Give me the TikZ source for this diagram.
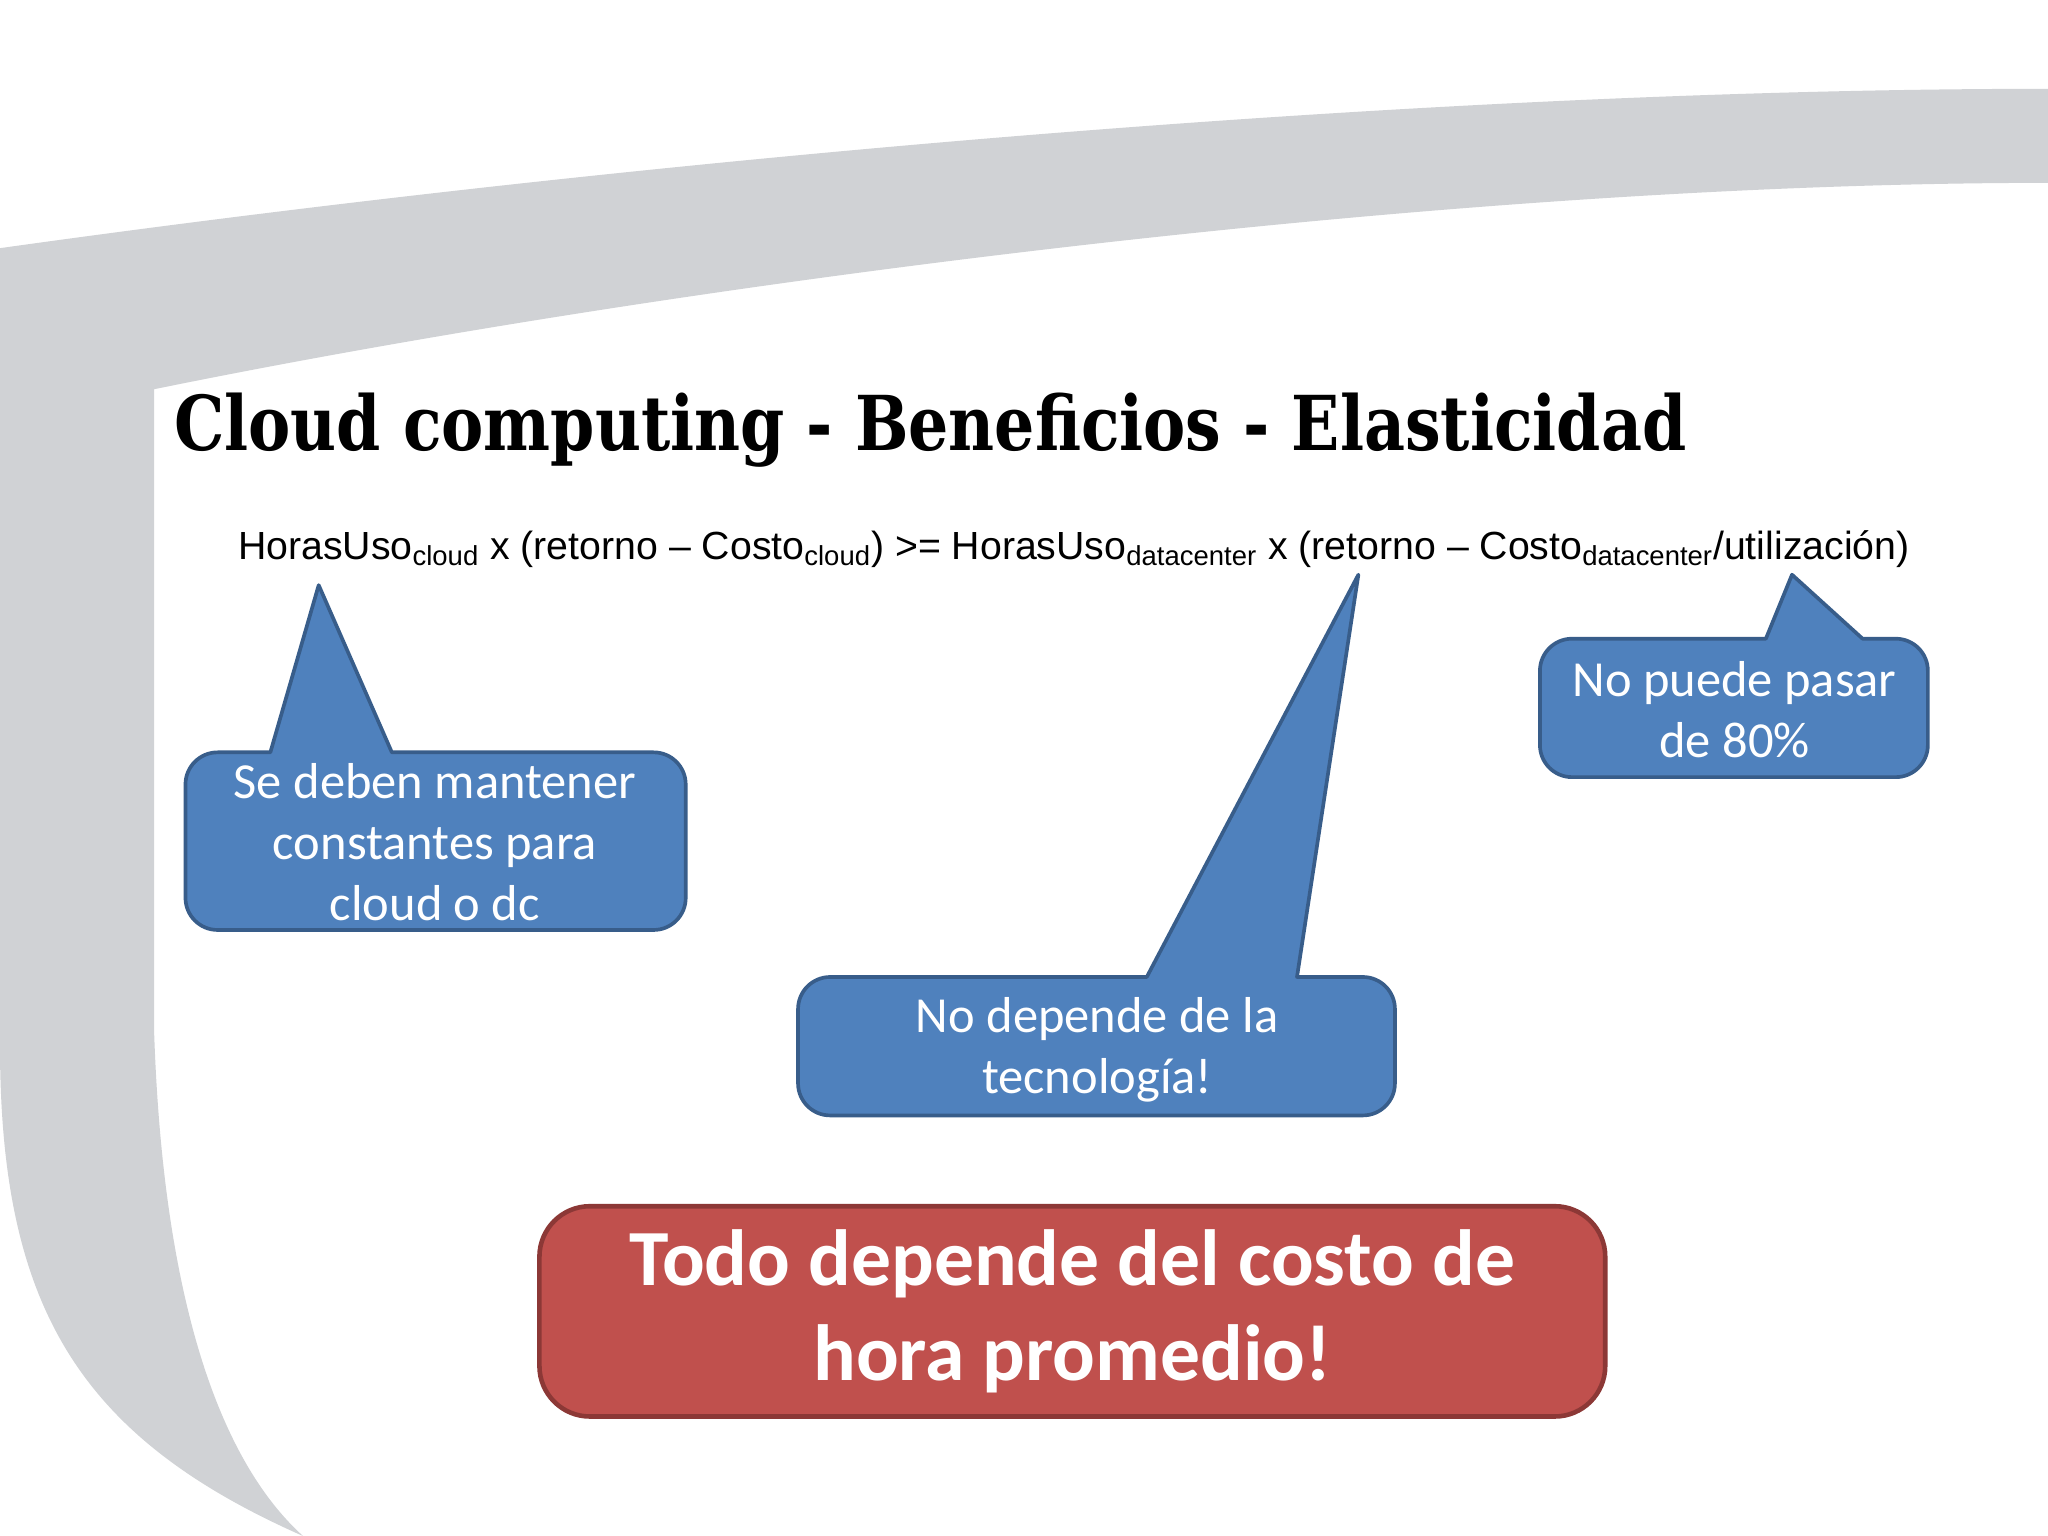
\documentclass[tikz,border=0pt]{standalone}
\usepackage{fontspec}
\setmainfont{Liberation Sans}
\newfontfamily\calib{Carlito}
\newfontfamily\slab{DejaVu Serif}
\definecolor{bandgrey}{HTML}{D0D2D5}
\definecolor{cfill}{HTML}{4F81BD}
\definecolor{cline}{HTML}{385D8A}
\definecolor{rfill}{HTML}{C0504D}
\definecolor{rline}{HTML}{8C3836}
\tikzset{callout/.style={fill=cfill,draw=cline,line width=1.6pt,line join=round},
 ctext/.style={text=white,font=\calib\fontsize{22}{26.6}\selectfont,align=center}}
\begin{document}
\begin{tikzpicture}[x=0.02cm,y=-0.02cm]
\useasboundingbox (0,0) rectangle (1568,1176);
\fill[white] (0,0) rectangle (1568,1176);
% grey band
\fill[bandgrey] (0,190) .. controls (500,120) and (1100,68) .. (1568,68) -- (1568,140)
  .. controls (1100,140) and (500,220) .. (118,298) -- (118,790)
  .. controls (125,1000) and (170,1120) .. (232,1176)
  .. controls (60,1100) and (0,1000) .. (0,800) -- cycle;
% title
\node[anchor=base west,inner sep=0,xscale=0.836,font=\slab\bfseries\fontsize{33}{40}\selectfont] (title) at (133,345) {Cloud computing - Beneficios - Elasticidad};
% formula
\node[anchor=base west,inner sep=0,font=\fontsize{17.1}{21}\selectfont] (formula) at (182,428)
 {HorasUso\textsubscript{cloud} x (retorno -- Costo\textsubscript{cloud}) >= HorasUso\textsubscript{datacenter} x (retorno -- Costo\textsubscript{datacenter}/utilización)};
% callout 1
\draw[callout] (207,576) -- (244,448) -- (300,576) [rounded corners=14] -- (525,576) -- (525,712) -- (142,712) -- (142,576) [sharp corners] -- cycle;
\node[ctext] (c1) at (333,645) {Se deben mantener\\constantes para\\cloud o dc};
% callout 2
\draw[callout] (878,748) -- (1040,440) -- (993,748) [rounded corners=14] -- (1068,748) -- (1068,854) -- (611,854) -- (611,748) [sharp corners] -- cycle;
\node[ctext] (c2) at (840,804) {No depende de la\\tecnología!};
% callout 3
\draw[callout] (1352,489) -- (1372,440) -- (1426,489) [rounded corners=14] -- (1476,489) -- (1476,595) -- (1179,595) -- (1179,489) [sharp corners] -- cycle;
\node[ctext] (c3) at (1328,543) {No puede pasar\\de 80\%};
% red box
\node[draw=rline,fill=rfill,line width=2pt,rounded corners=22,minimum width=816*0.02cm,minimum height=161*0.02cm,text=white,align=center,font=\calib\bfseries\fontsize{34.7}{41}\selectfont] (red) at (821,1004) {Todo depende del costo de\\hora promedio!};
\end{tikzpicture}
\end{document}
